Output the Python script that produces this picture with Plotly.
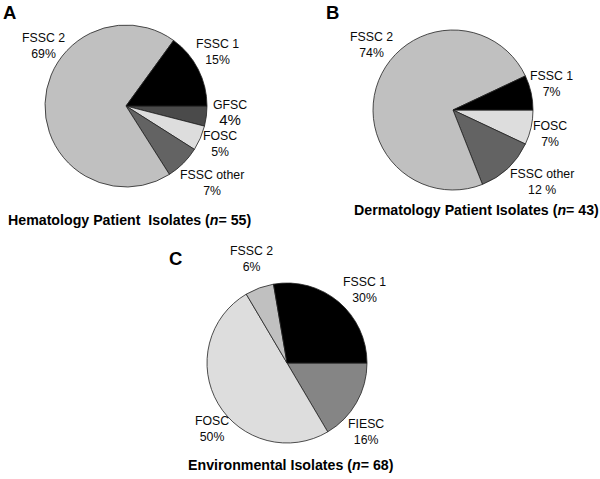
import plotly.graph_objects as go

W, H = 600, 479

# ---- data (clockwise from 3 o'clock) ----
a_labels = ["GFSC", "FOSC", "FSSC other", "FSSC 2", "FSSC 1"]
a_values = [4, 5, 7, 69, 15]
a_text = ["4%", "5%", "7%", "69%", "15%"]

b_labels = ["FOSC", "FSSC other", "FSSC 2", "FSSC 1"]
b_values = [7, 12, 74, 7]
b_text = ["7%", "12 %", "74%", "7%"]

c_labels = ["FIESC", "FOSC", "FSSC 2", "FSSC 1"]
c_values = [16.5, 50, 5.8, 27.7]   # angular shares as drawn
c_text = ["16%", "50%", "6%", "30%"]

titles = ["Hematology Patient  Isolates (<i>n</i>= 55)",
          "Dermatology Patient Isolates (<i>n</i>= 43)",
          "Environmental Isolates (<i>n</i>= 68)"]
panel_letters = ["A", "B", "C"]

# ---- styles ----
colors = {"FSSC 1": "#000000", "FSSC 2": "#c0c0c0", "GFSC": "#4a4a4a",
          "FOSC": "#dddddd", "FSSC other": "#636363", "FIESC": "#858585"}
FONT = "Liberation Sans, Arial, sans-serif"


def px_x(x):
    return x / W


def px_y(y):
    return 1 - y / H


def dom(cx, cy, r):
    return dict(x=[px_x(cx - r), px_x(cx + r)], y=[px_y(cy + r), px_y(cy - r)])


pies = [
    (a_labels, a_values, dom(126, 106, 81)),
    (b_labels, b_values, dom(453, 110, 80)),
    (c_labels, c_values, dom(287, 363, 80)),
]

fig = go.Figure()
for labels, values, d in pies:
    fig.add_trace(go.Pie(
        labels=labels, values=values, sort=False, direction="clockwise",
        rotation=90, domain=d, textinfo="none", hoverinfo="label+percent",
        marker=dict(colors=[colors[l] for l in labels],
                    line=dict(color="#222222", width=0.8)),
        showlegend=False,
    ))

# slice label positions (pixel centres)
a_pos = [(230, 113), (220, 144), (212, 183), (43, 46), (217, 52)]
b_pos = [(550, 134), (542, 182), (371, 45), (551, 84)]
c_pos = [(366, 432), (212, 429), (251, 259), (365, 290)]

annotations = []


def ann(x, y, text, size, color="#000000"):
    return dict(x=px_x(x), y=px_y(y), xref="paper", yref="paper",
                xanchor="center", yanchor="middle", text=text,
                showarrow=False, align="center",
                font=dict(family=FONT, size=size, color=color))


for labels, texts, pos in [(a_labels, a_text, a_pos), (b_labels, b_text, b_pos), (c_labels, c_text, c_pos)]:
    for l, t, (x, y) in zip(labels, texts, pos):
        if l == "GFSC":
            txt = f"{l}<br><span style='font-size:15px'>{t}</span>"
        else:
            txt = f"{l}<br>{t}"
        annotations.append(ann(x, y, txt, 12.3, "#0a0a0a"))

title_pos = [(130, 220), (476, 210), (291, 465)]
for t, (x, y) in zip(titles, title_pos):
    annotations.append(ann(x, y, f"<b>{t}</b>", 14.2))

letter_pos = [(9, 12), (332, 12), (175, 258)]
for t, (x, y) in zip(panel_letters, letter_pos):
    annotations.append(ann(x, y, f"<b>{t}</b>", 18.5))

fig.update_layout(width=W, height=H, margin=dict(l=0, r=0, t=0, b=0),
                  paper_bgcolor="white", plot_bgcolor="white",
                  annotations=annotations)

fig.write_html("out.html", config={"displayModeBar": False},
               post_script="document.body.style.margin='0';document.body.style.overflow='hidden';")
